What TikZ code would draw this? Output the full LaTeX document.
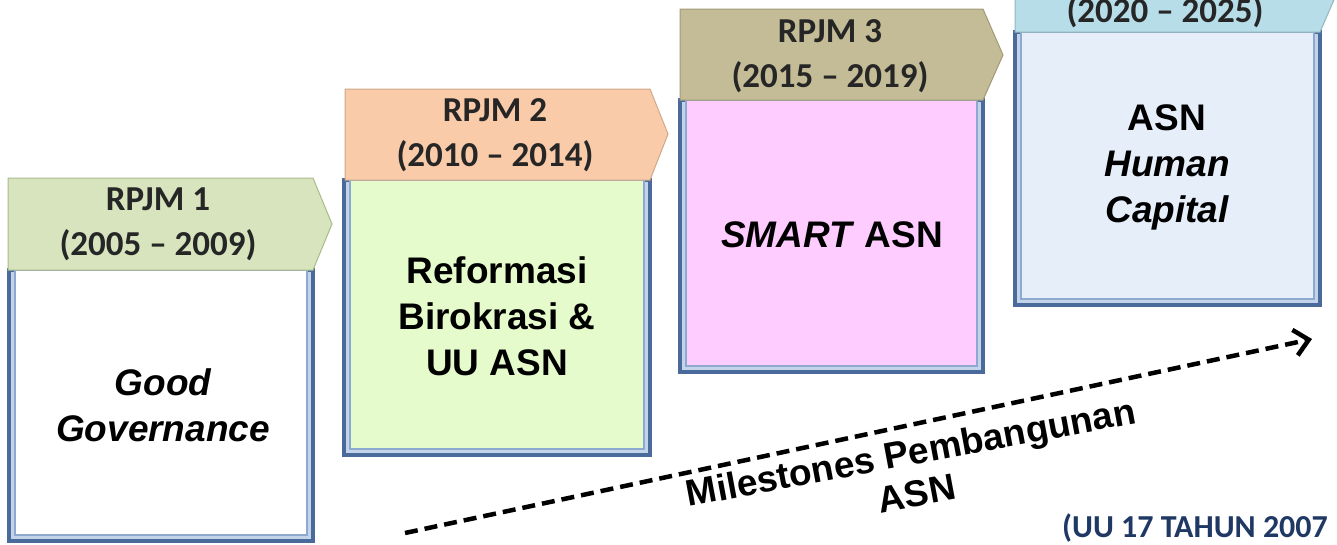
\documentclass[tikz,border=0pt]{standalone}
\usepackage{fontspec}
\setmainfont{Liberation Sans}
\newfontfamily\hdrfont{Carlito}
\usetikzlibrary{arrows.meta}
\definecolor{hfillA}{HTML}{D7E4BD}\definecolor{hdrawA}{HTML}{A9BA8C}
\definecolor{hfillB}{HTML}{F9CBA9}\definecolor{hdrawB}{HTML}{CDA98A}
\definecolor{hfillC}{HTML}{C4BC96}\definecolor{hdrawC}{HTML}{A39B78}
\definecolor{hfillD}{HTML}{B7DDE8}\definecolor{hdrawD}{HTML}{93B5BD}
\definecolor{bfillA}{HTML}{FFFFFF}
\definecolor{bfillB}{HTML}{E5FBCB}
\definecolor{bfillC}{HTML}{FFCCFF}
\definecolor{bfillD}{HTML}{E6EEFA}
\definecolor{frameout}{HTML}{4A6A9B}
\definecolor{framemid}{HTML}{C3D3EA}
\definecolor{framein}{HTML}{8DA9D0}
\definecolor{hdrtext}{HTML}{262626}
\definecolor{notetext}{HTML}{1F3864}
\tikzset{
  x=1pt, y=-1pt,
  frameouter/.style={draw=frameout, line width=3.5pt, fill=framemid},
  frameinner/.style={draw=framein, line width=1.2pt},
  hdrshape/.style={line width=1pt},
  hdrlabel/.style={font=\hdrfont\bfseries\fontsize{35}{45}\selectfont, text=hdrtext, align=center, inner sep=0pt},
  bodylabel/.style={font=\bfseries\fontsize{37}{46}\selectfont, align=center, inner sep=0pt},
  tilted/.style={bodylabel, rotate=10.6, anchor=base},
  milestone/.style={line width=4.5pt, dash pattern=on 13pt off 7pt, -{Straight Barb[length=14pt,width=26pt,line width=4.5pt]}},
}
\begin{document}
\begin{tikzpicture}
\useasboundingbox (0,0) rectangle (1337,544);
\clip (0,0) rectangle (1337,544);
% bodies
\draw[frameouter] (9,270) rectangle (313,541);
\draw[frameinner, fill=bfillA] (15,270) rectangle (307,535);
\draw[frameouter] (344,180) rectangle (650,455);
\draw[frameinner, fill=bfillB] (350,180) rectangle (644,449);
\draw[frameouter] (680,100) rectangle (983,372);
\draw[frameinner, fill=bfillC] (686,100) rectangle (977,366);
\draw[frameouter] (1015,32) rectangle (1320,305);
\draw[frameinner, fill=bfillD] (1021,32) rectangle (1314,299);
% headers
\draw[hdrshape, draw=hdrawA, fill=hfillA] (8,178) -- (313,178) -- (332,224) -- (313,270) -- (8,270) -- cycle;
\draw[hdrshape, draw=hdrawB, fill=hfillB] (345,89) -- (650,89) -- (668,134) -- (650,180) -- (345,180) -- cycle;
\draw[hdrshape, draw=hdrawC, fill=hfillC] (680,9) -- (983,9) -- (1003,55) -- (983,100) -- (680,100) -- cycle;
\draw[hdrshape, draw=hdrawD, fill=hfillD] (1015,-60) -- (1320,-60) -- (1340,-14) -- (1320,32) -- (1015,32) -- cycle;
% header labels
\node[hdrlabel] (h1) at (158,224) {RPJM 1\\(2005 – 2009)};
\node[hdrlabel] (h2) at (495,135) {RPJM 2\\(2010 – 2014)};
\node[hdrlabel] (h3) at (830,56) {RPJM 3\\(2015 – 2019)};
\node[hdrlabel, anchor=base] (h4) at (1165,22) {(2020 – 2025)};
% body labels
\node[bodylabel] (b1) at (163,405) {\itshape Good\\\itshape Governance};
\node[bodylabel] (b2) at (497,316) {Reformasi\\Birokrasi \&\\UU ASN};
\node[bodylabel] (b3) at (832,235) {\textit{SMART} ASN};
\node[bodylabel] (b4) at (1167,167) {ASN\\\itshape Human\\\itshape Capital};
% arrow
\coordinate (as) at (405,533);
\coordinate (ae) at (1312,339);
\draw[milestone] (as) -- (ae);
\node[tilted] (ml1) at (913,465) {Milestones Pembangunan};
\node[tilted] (ml2) at (919,506) {ASN};
% note
\node[font=\hdrfont\bfseries\fontsize{32}{36}\selectfont, text=notetext, anchor=base west, inner sep=0pt] (note) at (1062,537) {(UU 17 TAHUN 2007};
\end{tikzpicture}
\end{document}
